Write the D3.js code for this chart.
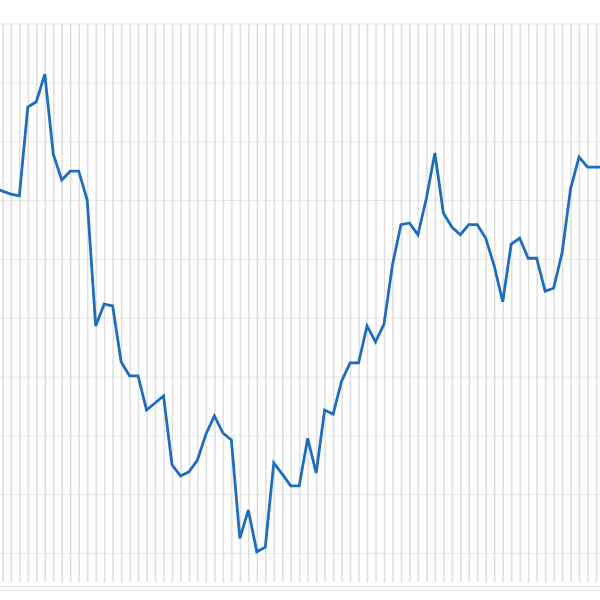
<!DOCTYPE html>
<html>
<head>
<meta charset="utf-8">
<script src="https://cdn.jsdelivr.net/npm/d3@7"></script>
<style>
  html, body { margin: 0; padding: 0; background: #fff; }
  svg { display: block; }
</style>
</head>
<body>
<svg id="chart"></svg>
<script>
// values, one per period (first and last run past the edges)
var values = [62.2, 61.5, 61.0, 60.7, 75.8, 76.7, 81.4, 67.8, 63.4, 64.9,
  64.9, 60.0, 38.6, 42.3, 42.0, 32.5, 30.1, 30.1, 24.3, 25.5,
  26.7, 15.0, 13.1, 13.8, 15.8, 20.2, 23.3, 20.4, 19.2, 2.5,
  7.3, 0.2, 1.0, 15.3, 13.4, 11.4, 11.4, 19.5, 13.6, 24.3,
  23.6, 29.2, 32.3, 32.3, 38.6, 35.9, 38.9, 49.0, 55.8, 56.1,
  54.1, 60.3, 68.0, 57.8, 55.4, 54.1, 55.8, 55.8, 53.5, 48.8,
  42.7, 52.5, 53.5, 50.1, 50.1, 44.5, 45.0, 51.0, 61.9, 67.3,
  65.6, 65.6, 65.6];
var periods = d3.range(values.length);
var yTicks = [0, 10, 20, 30, 40, 50, 60, 70, 80, 90];

var width = 600,
    height = 600,
    plotTop = 23.5,
    plotBottom = 582,
    step = 8.48;

var svg = d3.select("#chart")
    .attr("width", width)
    .attr("height", height);

var x = d3.scaleLinear()
    .domain([0, values.length - 1])
    .range([2.4 - step, 2.4 + (values.length - 2) * step]);

var y = d3.scaleLinear()
    .domain([0, 90])
    .range([553, plotTop]);

// horizontal grid
svg.append("g")
    .attr("class", "ygrid")
    .call(d3.axisLeft(y)
        .tickValues(yTicks)
        .tickSize(-width)
        .tickFormat(""))
    .call(function(g) { g.select(".domain").remove(); })
    .selectAll("line")
    .attr("stroke", "#e9e9e9")
    .attr("stroke-width", 1);

// vertical grid, one line per period
svg.append("g")
    .attr("class", "xgrid")
    .attr("transform", "translate(0," + plotBottom + ")")
    .call(d3.axisBottom(x)
        .tickValues(periods.slice(1))
        .tickSize(-(plotBottom - plotTop))
        .tickFormat(""))
    .call(function(g) { g.select(".domain").remove(); })
    .selectAll("line")
    .attr("stroke", "#dedede")
    .attr("stroke-width", 1.5);

// bottom border lines
svg.append("line")
    .attr("x1", 0).attr("x2", width)
    .attr("y1", 586.5).attr("y2", 586.5)
    .attr("stroke", "#e2e2e2")
    .attr("stroke-width", 1);
svg.append("line")
    .attr("x1", 0).attr("x2", width)
    .attr("y1", 590.5).attr("y2", 590.5)
    .attr("stroke", "#ebebeb")
    .attr("stroke-width", 1);

var line = d3.line()
    .x(function(d, i) { return x(i); })
    .y(function(d) { return y(d); });

svg.append("path")
    .datum(values)
    .attr("fill", "none")
    .attr("stroke", "#1f6dbf")
    .attr("stroke-width", 2.8)
    .attr("stroke-linejoin", "miter")
    .attr("d", line);
</script>
</body>
</html>
